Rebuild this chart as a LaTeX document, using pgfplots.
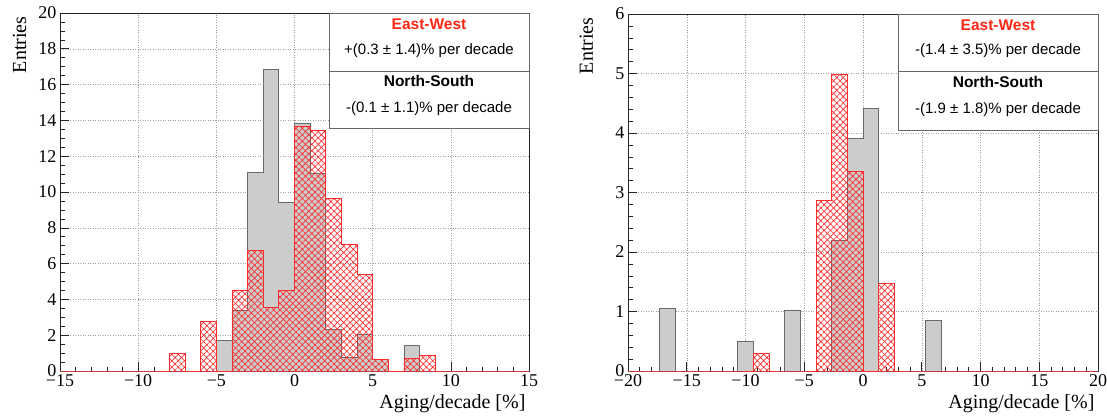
\documentclass[border=0pt]{standalone}
\usepackage{fontspec}
\setmainfont{Liberation Serif}
\newfontfamily\sansf{Liberation Sans}
\usepackage{pgfplots}
\pgfplotsset{compat=1.18}
\usetikzlibrary{patterns.meta}

\definecolor{ewred}{RGB}{255,40,20}
\definecolor{hgray}{RGB}{204,204,204}
\definecolor{hline}{RGB}{105,105,105}
\definecolor{hred}{RGB}{250,45,45}

\pgfplotsset{rootaxis/.style={
  scale only axis,
  axis line style={black!85, line width=0.8pt},
  xtick pos=bottom, ytick pos=left, tick align=inside,
  major tick length=9pt, minor tick length=4.5pt,
  tick style={black!85, line width=0.6pt},
  grid=major,
  major grid style={gray!75, line width=0.5pt, dash pattern=on 1pt off 1.5pt},
  tick label style={font=\fontsize{18}{18}\selectfont},
  label style={font=\fontsize{20}{20}\selectfont},
  clip=true,
},
grayhist/.style={const plot mark left, fill=hgray, draw=hline, line width=0.8pt},
redhist/.style={const plot mark left, draw=hred, line width=0.8pt,
  pattern={Hatch[angle=45, distance=4.5pt, line width=0.65pt]}, pattern color=hred},
}

\begin{document}
\begin{tikzpicture}
\useasboundingbox (0,0) rectangle (1107pt,418pt);

% ---------------- left panel ----------------
\begin{axis}[rootaxis,
  at={(60pt,47pt)}, anchor=south west, width=469pt, height=358pt,
  xmin=-15, xmax=15, ymin=0, ymax=20,
  xtick={-15,-10,-5,0,5,10,15},
  xticklabels={−15,−10,−5,0,5,10,15},
  minor x tick num=4,
  ytick={0,2,4,6,8,10,12,14,16,18,20},
  yticklabels={0,2,4,6,8,10,12,14,16,18,20},
  minor y tick num=3,
  xlabel={Aging/decade [\%]},
  ylabel={Entries},
  xlabel style={at={(rel axis cs:1,-0.106)}, anchor=base east},
  ylabel style={at={(rel axis cs:-0.0725,1)}, anchor=base east},
]
\addplot[grayhist] coordinates {
(-15,0) (-14,0) (-13,0) (-12,0) (-11,0) (-10,0) (-9,0) (-8,0) (-7,0) (-6,0)
(-5,1.72) (-4,3.40) (-3,11.08) (-2,16.83) (-1,9.42) (0,13.81) (1,11.04)
(2,2.31) (3,0.78) (4,2.07) (5,0.65) (6,0) (7,1.44) (8,0) (9,0) (10,0)
(11,0) (12,0) (13,0) (14,0) (15,0)} \closedcycle;
\addplot[redhist] coordinates {
(-15,0) (-14,0) (-13,0) (-12,0) (-11,0) (-10,0) (-9,0) (-8,0.97) (-7,0)
(-6,2.78) (-5,0) (-4,4.53) (-3,6.75) (-2,3.56) (-1,4.50) (0,13.69) (1,13.43)
(2,9.63) (3,7.07) (4,5.41) (5,0.65) (6,0) (7,0.69) (8,0.86) (9,0) (10,0)
(11,0) (12,0) (13,0) (14,0) (15,0)} \closedcycle;
\end{axis}

% ---------------- right panel ----------------
\begin{axis}[rootaxis,
  at={(628pt,47pt)}, anchor=south west, width=470pt, height=357pt,
  xmin=-20, xmax=20, ymin=0, ymax=6,
  xtick={-20,-15,-10,-5,0,5,10,15,20},
  xticklabels={−20,−15,−10,−5,0,5,10,15,20},
  minor x tick num=4,
  ytick={0,1,2,3,4,5,6},
  yticklabels={0,1,2,3,4,5,6},
  minor y tick num=4,
  xlabel={Aging/decade [\%]},
  ylabel={Entries},
  xlabel style={at={(rel axis cs:1,-0.106)}, anchor=base east},
  ylabel style={at={(rel axis cs:-0.0745,1)}, anchor=base east},
]
\addplot[grayhist] coordinates {
(-20,0) (-18.6667,0) (-17.3333,1.05) (-16,0) (-14.6667,0) (-13.3333,0)
(-12,0) (-10.6667,0.50) (-9.3333,0) (-8,0) (-6.6667,1.02) (-5.3333,0)
(-4,0) (-2.6667,2.20) (-1.3333,3.91) (0,4.42) (1.3333,0) (2.6667,0)
(4,0) (5.3333,0.85) (6.6667,0) (8,0) (9.3333,0) (10.6667,0) (12,0)
(13.3333,0) (14.6667,0) (16,0) (17.3333,0) (18.6667,0) (20,0)} \closedcycle;
\addplot[redhist] coordinates {
(-20,0) (-18.6667,0) (-17.3333,0) (-16,0) (-14.6667,0) (-13.3333,0)
(-12,0) (-10.6667,0) (-9.3333,0.29) (-8,0) (-6.6667,0) (-5.3333,0)
(-4,2.87) (-2.6667,4.98) (-1.3333,3.36) (0,0) (1.3333,1.47) (2.6667,0)
(4,0) (5.3333,0) (6.6667,0) (8,0) (9.3333,0) (10.6667,0) (12,0)
(13.3333,0) (14.6667,0) (16,0) (17.3333,0) (18.6667,0) (20,0)} \closedcycle;
\end{axis}

% ---------------- info boxes ----------------
\tikzset{boxline/.style={draw=black!60, line width=0.7pt},
  ttl/.style={font=\sansf\fontsize{15.5}{15.5}\selectfont\bfseries},
  val/.style={font=\sansf\fontsize{15}{15}\selectfont}}
\filldraw[fill=white, boxline] (329pt,290pt) rectangle (529pt,405pt);
\draw[boxline] (329pt,347pt) -- (529pt,347pt);
\node[ttl, text=ewred] at (429pt,393.5pt) {East-West};
\node[val] at (429pt,367pt) {+(0.3 ± 1.4)\% per decade};
\node[ttl] at (429pt,337pt) {North-South};
\node[val] at (429pt,309pt) {-(0.1 ± 1.1)\% per decade};

\filldraw[fill=white, boxline] (898pt,288pt) rectangle (1098pt,404pt);
\draw[boxline] (898pt,347pt) -- (1098pt,347pt);
\node[ttl, text=ewred] at (998pt,392.5pt) {East-West};
\node[val] at (998pt,367pt) {-(1.4 ± 3.5)\% per decade};
\node[ttl] at (998pt,336pt) {North-South};
\node[val] at (998pt,308pt) {-(1.9 ± 1.8)\% per decade};
\end{tikzpicture}
\end{document}
